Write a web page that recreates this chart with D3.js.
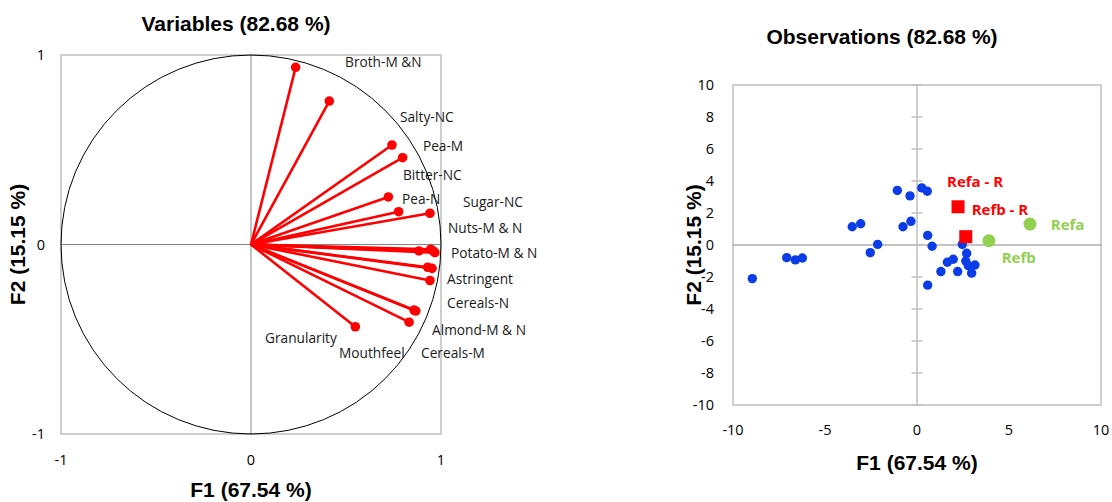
<!DOCTYPE html>
<html lang="en">
  <head>
    <meta charset="utf-8">
    <title>PCA biplot</title>
    <style>
      body { margin: 0; background: #fff; }
      text { font-family: "Open Sans", sans-serif; }
      .title { font-family: "Liberation Sans", Arial, sans-serif; font-weight: bold; }
    </style>
    <script src="https://cdn.jsdelivr.net/npm/d3@7"></script>
  </head>
  <body>
    <div id="viz"></div>
    <script>

    // correlation circle : loadings of each sensory variable on F1 / F2
    var varX = [0.235, 0.412, 0.742, 0.798, 0.723, 0.777, 0.942, 0.884, 0.946, 0.959, 0.968,
                0.930, 0.953, 0.942, 0.867, 0.858, 0.832, 0.549];
    var varY = [0.935, 0.757, 0.525, 0.458, 0.251, 0.173, 0.165, -0.034, -0.025, -0.034, -0.043,
                -0.120, -0.126, -0.190, -0.351, -0.346, -0.410, -0.434];

    // variable labels, where the spreadsheet put them (F1, F2 units)
    var varNames = ['Broth-M &N', 'Salty-NC', 'Pea-M', 'Bitter-NC', 'Pea-N', 'Sugar-NC', 'Nuts-M & N',
                    'Potato-M & N', 'Astringent', 'Cereals-N', 'Almond-M & N', 'Granularity',
                    'Mouthfeel', 'Cereals-M'];
    var varLabX = [0.495, 0.784, 0.905, 0.800, 0.795, 1.116, 1.037, 1.053, 1.032, 1.032, 0.953,
                   0.074, 0.463, 0.895];
    var varLabY = [0.963, 0.673, 0.520, 0.367, 0.240, 0.224, 0.087, -0.045, -0.182, -0.309, -0.451,
                   -0.493, -0.573, -0.573];

    // observations (product scores)
    var obsX = [-8.95, -7.08, -6.61, -6.23, -3.52, -3.06, -2.54, -2.14, -1.07, -0.38, -0.76, -0.33,
                0.26, 0.56, 0.58, 0.82, 0.58, 2.46, 2.70, 1.65, 1.97, 1.30, 2.21, 2.65, 2.79, 3.15, 2.97];
    var obsY = [-2.10, -0.79, -0.93, -0.81, 1.14, 1.33, -0.48, 0.04, 3.41, 3.07, 1.14, 1.48,
                3.57, 3.36, 0.60, -0.08, -2.51, 0.04, -0.52, -1.08, -0.89, -1.66, -1.66, -1.00, -1.29,
                -1.25, -1.76];

    // references
    var refRX = [2.23, 2.65], refRY = [2.39, 0.52];
    var refX = [6.14, 3.91], refY = [1.31, 0.27];
    var refNames = ['Refa - R', 'Refb - R', 'Refa', 'Refb'];
    var refLabX = [1.63, 2.97, 7.27, 4.60];
    var refLabY = [3.94, 2.22, 1.25, -0.79];

    var varTicks = [-1, 0, 1];
    var obsXTicks = [-10, -5, 0, 5, 10];
    var obsYTicks = [-10, -8, -6, -4, -2, 0, 2, 4, 6, 8, 10];

    var svg = d3.select('#viz').append('svg')
        .attr('width', 1112)
        .attr('height', 502);

    var boxGray = '#bfbfbf', axisGray = '#868686';

    // ---------- left: variables ----------
    var lx = d3.scaleLinear().domain([-1, 1]).range([61, 441]);
    var ly = d3.scaleLinear().domain([-1, 1]).range([434, 55]);
    var left = svg.append('g');

    left.append('rect')
        .attr('x', lx(-1)).attr('y', ly(1))
        .attr('width', lx(1) - lx(-1)).attr('height', ly(-1) - ly(1))
        .attr('fill', 'none').attr('stroke', boxGray).attr('stroke-width', 1.5);
    left.append('line')
        .attr('x1', lx(0)).attr('x2', lx(0)).attr('y1', ly(1)).attr('y2', ly(-1))
        .attr('stroke', axisGray).attr('stroke-width', 1);
    left.append('line')
        .attr('x1', lx(-1)).attr('x2', lx(1)).attr('y1', ly(0)).attr('y2', ly(0))
        .attr('stroke', axisGray).attr('stroke-width', 1);

    left.append('ellipse')
        .attr('cx', lx(0)).attr('cy', ly(0))
        .attr('rx', lx(1) - lx(0)).attr('ry', ly(-1) - ly(0))
        .attr('fill', 'none').attr('stroke', '#000').attr('stroke-width', 1);

    var vars = varX.map(function(d, i) { return {x: d, y: varY[i]}; });
    left.selectAll('line.vec').data(vars).enter().append('line')
        .attr('class', 'vec')
        .attr('x1', lx(0)).attr('y1', ly(0))
        .attr('x2', function(d) { return lx(d.x); })
        .attr('y2', function(d) { return ly(d.y); })
        .attr('stroke', '#ff0000').attr('stroke-width', 2.6);
    left.selectAll('circle.vec').data(vars).enter().append('circle')
        .attr('class', 'vec')
        .attr('cx', function(d) { return lx(d.x); })
        .attr('cy', function(d) { return ly(d.y); })
        .attr('r', 4.8).attr('fill', '#ff0000');

    left.selectAll('text.lab').data(varNames).enter().append('text')
        .attr('class', 'lab')
        .attr('x', function(d, i) { return lx(varLabX[i]); })
        .attr('y', function(d, i) { return ly(varLabY[i]); })
        .attr('dy', '0.35em')
        .attr('font-size', 13.7).attr('fill', '#1a1a1a')
        .text(function(d) { return d; });

    left.selectAll('text.yt').data(varTicks).enter().append('text')
        .attr('class', 'yt')
        .attr('x', 45).attr('y', function(d) { return ly(d); })
        .attr('dy', '0.35em').attr('text-anchor', 'end')
        .attr('font-size', 14.5).text(function(d) { return d; });
    left.selectAll('text.xt').data(varTicks).enter().append('text')
        .attr('class', 'xt')
        .attr('x', function(d) { return lx(d); }).attr('y', 460)
        .attr('dy', '0.35em').attr('text-anchor', 'middle')
        .attr('font-size', 14.5).text(function(d) { return d; });

    left.append('text').attr('class', 'title')
        .attr('x', 236).attr('y', 31).attr('text-anchor', 'middle')
        .attr('font-size', 21).text('Variables (82.68 %)');
    left.append('text').attr('class', 'title')
        .attr('x', lx(0)).attr('y', 497).attr('text-anchor', 'middle')
        .attr('font-size', 21).text('F1 (67.54 %)');
    left.append('text').attr('class', 'title')
        .attr('transform', 'translate(25,' + ly(0) + ') rotate(-90)')
        .attr('text-anchor', 'middle')
        .attr('font-size', 21).text('F2 (15.15 %)');

    // ---------- right: observations ----------
    var rx = d3.scaleLinear().domain([-10, 10]).range([733, 1101]);
    var ry = d3.scaleLinear().domain([-10, 10]).range([405, 85]);
    var right = svg.append('g');

    right.append('rect')
        .attr('x', rx(-10)).attr('y', ry(10))
        .attr('width', rx(10) - rx(-10)).attr('height', ry(-10) - ry(10))
        .attr('fill', 'none').attr('stroke', boxGray).attr('stroke-width', 1.5);
    right.append('line')
        .attr('x1', rx(-10)).attr('x2', rx(10)).attr('y1', ry(0)).attr('y2', ry(0))
        .attr('stroke', axisGray).attr('stroke-width', 1);
    right.append('line')
        .attr('x1', rx(0)).attr('x2', rx(0)).attr('y1', ry(10)).attr('y2', ry(-10))
        .attr('stroke', boxGray).attr('stroke-width', 1.5);
    right.selectAll('line.tk').data(obsYTicks).enter().append('line')
        .attr('class', 'tk')
        .attr('x1', rx(0) - 5.5).attr('x2', rx(0) + 5.5)
        .attr('y1', function(d) { return ry(d); })
        .attr('y2', function(d) { return ry(d); })
        .attr('stroke', boxGray).attr('stroke-width', 1.5);

    right.selectAll('text.yt').data(obsYTicks).enter().append('text')
        .attr('class', 'yt')
        .attr('x', 714).attr('y', function(d) { return ry(d); })
        .attr('dy', '0.35em').attr('text-anchor', 'end')
        .attr('font-size', 14.5).text(function(d) { return d; });
    right.selectAll('text.xt').data(obsXTicks).enter().append('text')
        .attr('class', 'xt')
        .attr('x', function(d) { return rx(d); }).attr('y', 430)
        .attr('dy', '0.35em').attr('text-anchor', 'middle')
        .attr('font-size', 14.5).text(function(d) { return d; });

    var obs = obsX.map(function(d, i) { return {x: d, y: obsY[i]}; });
    right.selectAll('circle.obs').data(obs).enter().append('circle')
        .attr('class', 'obs')
        .attr('cx', function(d) { return rx(d.x); })
        .attr('cy', function(d) { return ry(d.y); })
        .attr('r', 4.7).attr('fill', '#0a3de8');

    var refR = refRX.map(function(d, i) { return {x: d, y: refRY[i]}; });
    right.selectAll('rect.refr').data(refR).enter().append('rect')
        .attr('class', 'refr')
        .attr('x', function(d) { return rx(d.x) - 6.5; })
        .attr('y', function(d) { return ry(d.y) - 6.5; })
        .attr('width', 13).attr('height', 13).attr('fill', '#ff0000');

    var ref = refX.map(function(d, i) { return {x: d, y: refY[i]}; });
    right.selectAll('circle.ref').data(ref).enter().append('circle')
        .attr('class', 'ref')
        .attr('cx', function(d) { return rx(d.x); })
        .attr('cy', function(d) { return ry(d.y); })
        .attr('r', 6.5).attr('fill', '#92d050');

    right.selectAll('text.reflab').data(refNames).enter().append('text')
        .attr('class', 'reflab')
        .attr('x', function(d, i) { return rx(refLabX[i]); })
        .attr('y', function(d, i) { return ry(refLabY[i]); })
        .attr('dy', '0.35em')
        .attr('font-size', 15).attr('font-weight', 'bold')
        .attr('fill', function(d, i) { return i < 2 ? '#ff0000' : '#92d050'; })
        .text(function(d) { return d; });

    right.append('text').attr('class', 'title')
        .attr('x', 882).attr('y', 44).attr('text-anchor', 'middle')
        .attr('font-size', 21).text('Observations (82.68 %)');
    right.append('text').attr('class', 'title')
        .attr('x', rx(0)).attr('y', 470).attr('text-anchor', 'middle')
        .attr('font-size', 21).text('F1 (67.54 %)');
    right.append('text').attr('class', 'title')
        .attr('transform', 'translate(701,' + ry(0) + ') rotate(-90)')
        .attr('text-anchor', 'middle')
        .attr('font-size', 21).text('F2 (15.15 %)');

    </script>
  </body>
</html>
